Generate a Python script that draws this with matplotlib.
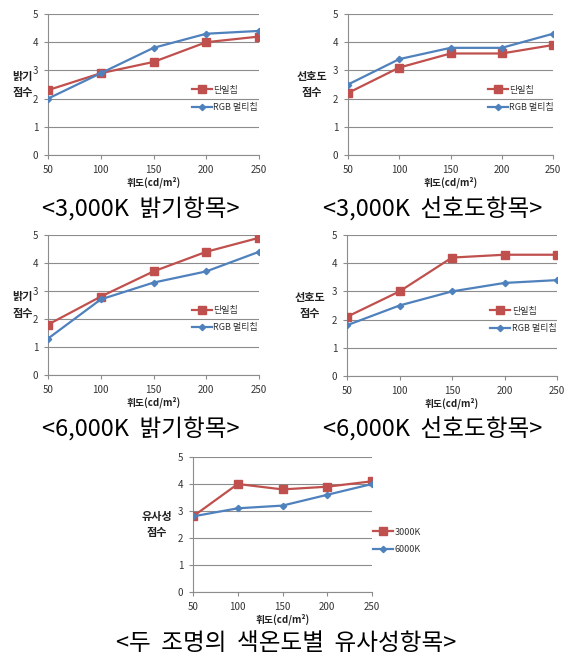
import matplotlib
matplotlib.use("Agg")
import matplotlib.pyplot as plt

plt.rcParams['font.family'] = ['Noto Sans CJK KR', 'DejaVu Sans']

W, H = 564, 659

luminance = [50, 100, 150, 200, 250]

bright_3000_single = [2.3, 2.9, 3.3, 4.0, 4.2]
bright_3000_rgb = [2.0, 2.9, 3.8, 4.3, 4.4]
pref_3000_single = [2.2, 3.1, 3.6, 3.6, 3.9]
pref_3000_rgb = [2.5, 3.4, 3.8, 3.8, 4.3]
bright_6000_single = [1.8, 2.8, 3.7, 4.4, 4.9]
bright_6000_rgb = [1.3, 2.7, 3.3, 3.7, 4.4]
pref_6000_single = [2.1, 3.0, 4.2, 4.3, 4.3]
pref_6000_rgb = [1.8, 2.5, 3.0, 3.3, 3.4]
similar_3000 = [2.8, 4.0, 3.8, 3.9, 4.1]
similar_6000 = [2.8, 3.1, 3.2, 3.6, 4.0]

series_names = ['단일칩', 'RGB 멀티칩']
temp_names = ['3000K', '6000K']
captions = ['<3,000K  밝기항목>', '<3,000K  선호도항목>',
            '<6,000K  밝기항목>', '<6,000K  선호도항목>',
            '<두  조명의  색온도별  유사성항목>']

RED = '#C0504D'
BLUE = '#4F81BD'
GRID = '#8C8C8C'

fig = plt.figure(figsize=(W / 100, H / 100), dpi=100)


def make_axes(x0, x1, y0, y1):
    # pixel box -> figure fraction
    return fig.add_axes([x0 / W, 1 - y1 / H, (x1 - x0) / W, (y1 - y0) / H])


def draw(ax, red_vals, blue_vals, names, ylabel, label_x, leg_anchor):
    ax.plot(luminance, red_vals, color=RED, lw=1.6, marker='s', ms=5.5,
            label=names[0], zorder=3)
    ax.plot(luminance, blue_vals, color=BLUE, lw=1.6, marker='D', ms=3.2,
            label=names[1], zorder=3)
    ax.set_xlim(50, 250)
    ax.set_ylim(0, 5)
    ax.set_xticks(luminance)
    ax.set_yticks(range(6))
    ax.grid(axis='y', color=GRID, lw=0.8)
    ax.set_axisbelow(True)
    for s in ('top', 'right'):
        ax.spines[s].set_visible(False)
    for s in ('left', 'bottom'):
        ax.spines[s].set_color(GRID)
        ax.spines[s].set_linewidth(0.8)
    ax.tick_params(labelsize=7, colors='#333333', length=3, width=0.8,
                   pad=4, color=GRID)
    ax.set_xlabel('휘도(cd/m²)', fontsize=7, fontweight='bold', labelpad=1.5,
                  color='#222222')
    ax.text(label_x, 0.5, ylabel, transform=ax.transAxes, fontsize=8,
            fontweight='bold', ha='center', va='center', linespacing=1.35,
            color='#222222')
    leg = ax.legend(loc='center left', bbox_to_anchor=leg_anchor,
                    frameon=False, fontsize=6.5, handlelength=2.2,
                    handletextpad=0.2, labelspacing=0.9, borderpad=0)
    for t in leg.get_texts():
        t.set_color('#333333')


ax1 = make_axes(48, 259, 14, 155)
draw(ax1, bright_3000_single, bright_3000_rgb, series_names, '밝기\n점수',
     -0.12, (0.66, 0.40))
ax2 = make_axes(348, 553, 14, 155)
draw(ax2, pref_3000_single, pref_3000_rgb, series_names, '선호도\n점수',
     -0.175, (0.66, 0.40))
ax3 = make_axes(48, 259, 235, 375)
draw(ax3, bright_6000_single, bright_6000_rgb, series_names, '밝기\n점수',
     -0.12, (0.66, 0.40))
ax4 = make_axes(347, 557, 235, 376)
draw(ax4, pref_6000_single, pref_6000_rgb, series_names, '선호도\n점수',
     -0.175, (0.66, 0.40))
ax5 = make_axes(193, 372, 457, 592)
draw(ax5, similar_3000, similar_6000, temp_names, '유사성\n점수',
     -0.2, (0.98, 0.38))

fig.text(141 / W, 1 - 209 / H, captions[0], fontsize=17, ha='center', va='center')
fig.text(433 / W, 1 - 209 / H, captions[1], fontsize=17, ha='center', va='center')
fig.text(141 / W, 1 - 429 / H, captions[2], fontsize=17, ha='center', va='center')
fig.text(433 / W, 1 - 429 / H, captions[3], fontsize=17, ha='center', va='center')
fig.text(286 / W, 1 - 644 / H, captions[4], fontsize=17, ha='center', va='center')

fig.savefig('out.png', dpi=100)
